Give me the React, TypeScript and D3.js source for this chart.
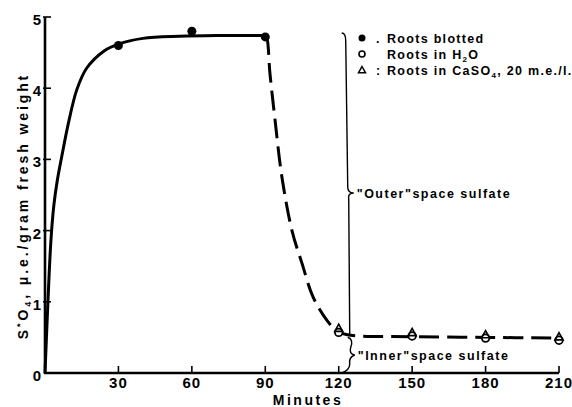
import React from 'react';
import * as d3 from 'd3';

// values (minutes, µe / g fresh weight)
const blotted: [number, number][] = [[30, 4.6], [60, 4.8], [90, 4.72]];
const inWater: [number, number][] = [[120, 0.57], [150, 0.52], [180, 0.49], [210, 0.46]];
const inCaSO4: [number, number][] = [[120, 0.63], [150, 0.57], [180, 0.54], [210, 0.51]];

const uptakeCurve: [number, number][] = [
  [0, 0], [1.2, 1.0], [2.4, 1.85], [3.6, 2.35], [5, 2.7], [6.9, 3.05], [9.5, 3.5],
  [13, 3.98], [17, 4.28], [24, 4.52], [30, 4.62], [40, 4.7], [55, 4.73], [70, 4.74], [90, 4.74],
];
const lossCurve: [number, number][] = [
  [90, 4.74], [90.7, 4.7], [91.9, 4.21], [94, 3.55], [96.8, 2.75], [100.9, 2.0],
  [105, 1.54], [109.5, 1.07], [115.2, 0.74], [119.7, 0.58], [125, 0.53],
  [150, 0.51], [180, 0.5], [210, 0.49],
];

const xTicks = [30, 60, 90, 120, 150, 180, 210];
const yTicks = [0, 1, 2, 3, 4, 5];

const font = '"Liberation Sans", Arial, sans-serif';

export default function App() {
  const x = d3.scaleLinear().domain([0, 210]).range([45, 559]);
  const y = d3.scaleLinear().domain([0, 5]).range([373, 17]);

  const line = d3.line<[number, number]>()
    .x(d => x(d[0]))
    .y(d => y(d[1]))
    .curve(d3.curveCatmullRom.alpha(0.5));

  const tri = (cx: number, cy: number, s = 4) =>
    `M${cx},${cy - s} L${cx + s},${cy + s * 0.8} L${cx - s},${cy + s * 0.8} Z`;

  // bracket positions
  const bx = x(124.5);
  const outerTop = 33;
  const outerBot = y(0.53);
  const outerMid = 193;

  const legendText = { fontFamily: font, fontWeight: 'bold' as const, fontSize: 12.5, letterSpacing: 1.3 };
  const noteText = { fontFamily: font, fontWeight: 'bold' as const, fontSize: 12.5, letterSpacing: 1.5 };

  return (
    <div style={{ position: 'absolute', left: 0, top: 0 }}>
      <svg width={572} height={407} style={{ display: 'block', background: '#fff' }}>
        {/* axes */}
        <line x1={x(0)} x2={x(0)} y1={y(5)} y2={y(0) + 1} stroke="#000" strokeWidth={2.6} />
        <line x1={x(0) - 1} x2={x(210)} y1={y(0)} y2={y(0)} stroke="#000" strokeWidth={2.4} />
        {yTicks.map(t => (
          <g key={t}>
            {t > 0 && <line x1={x(0) - 2} x2={x(0) + 6} y1={y(t)} y2={y(t)} stroke="#000" strokeWidth={1.6} />}
            <text x={x(0) - 4} y={y(t) + 8} textAnchor="end" fontFamily={font} fontWeight="bold" fontSize={15}>{t}</text>
          </g>
        ))}
        {xTicks.map(t => (
          <g key={t}>
            <line x1={x(t)} x2={x(t)} y1={y(0)} y2={y(0) - 7} stroke="#000" strokeWidth={1.6} />
            <text x={x(t)} y={388} textAnchor="middle" fontFamily={font} fontWeight="bold" fontSize={15} letterSpacing={1}>{t}</text>
          </g>
        ))}
        <text x={308} y={405} textAnchor="middle" fontFamily={font} fontWeight="bold" fontSize={14} letterSpacing={2.5}>Minutes</text>
        <text transform={`translate(28,${206}) rotate(-90)`} textAnchor="middle" fontFamily={font} fontWeight="bold" fontSize={14} letterSpacing={2.9}>
          S<tspan dy={-5} fontSize={9}>*</tspan><tspan dy={5}>O</tspan><tspan dy={3} fontSize={9}>4</tspan><tspan dy={-3}>, μ.e./gram fresh weight</tspan>
        </text>

        {/* curves */}
        <path d={line(uptakeCurve) || ''} fill="none" stroke="#000" strokeWidth={3} />
        <path d={line(lossCurve) || ''} fill="none" stroke="#000" strokeWidth={3} strokeDasharray="20 8" />

        {/* points */}
        {blotted.map((d, i) => (
          <circle key={i} cx={x(d[0])} cy={y(d[1])} r={4.5} fill="#000" />
        ))}
        {inWater.map((d, i) => (
          <circle key={i} cx={x(d[0])} cy={y(d[1])} r={3.8} fill="#fff" stroke="#000" strokeWidth={1.8} />
        ))}
        {inCaSO4.map((d, i) => (
          <path key={i} d={tri(x(d[0]), y(d[1]))} fill="none" stroke="#000" strokeWidth={1.6} />
        ))}

        {/* "outer" bracket */}
        <path
          d={`M${bx - 8},${outerTop} Q${bx - 4},${outerTop} ${bx - 4},${outerTop + 8} L${bx - 2},${outerMid - 6} Q${bx - 2},${outerMid} ${bx + 4},${outerMid} Q${bx - 2},${outerMid} ${bx - 1},${outerMid + 6} L${bx},${outerBot}`}
          fill="none" stroke="#000" strokeWidth={1.4}
        />
        <text x={bx + 7} y={outerMid + 5} {...noteText}>"Outer"space sulfate</text>

        {/* "inner" bracket */}
        <path
          d={`M${bx - 2},${outerBot + 2} Q${bx + 4},${outerBot + 4} ${bx + 1},${outerBot + 12} Q${bx - 1},${354} ${bx + 5},${355} Q${bx - 1},${357} ${bx},${364} Q${bx},${370} ${bx - 8},${y(0)}`}
          fill="none" stroke="#000" strokeWidth={1.4}
        />
        <text x={bx + 8} y={360} {...noteText}>"Inner"space sulfate</text>

        {/* legend */}
        <circle cx={362} cy={38} r={3.5} fill="#000" />
        <text x={376} y={43} {...legendText}>.</text>
        <text x={387} y={43} {...legendText}>Roots blotted</text>
        <circle cx={362} cy={54} r={3} fill="none" stroke="#000" strokeWidth={1.6} />
        <text x={387} y={59} {...legendText}>Roots in H<tspan dy={3} fontSize={8}>2</tspan><tspan dy={-3}>O</tspan></text>
        <path d={tri(362, 70, 3.5)} fill="none" stroke="#000" strokeWidth={1.5} />
        <text x={376} y={75} {...legendText}>:</text>
        <text x={387} y={75} {...legendText}>Roots in CaSO<tspan dy={3} fontSize={8}>4</tspan><tspan dy={-3}>, 20 m.e./l.</tspan></text>
      </svg>
    </div>
  );
}
